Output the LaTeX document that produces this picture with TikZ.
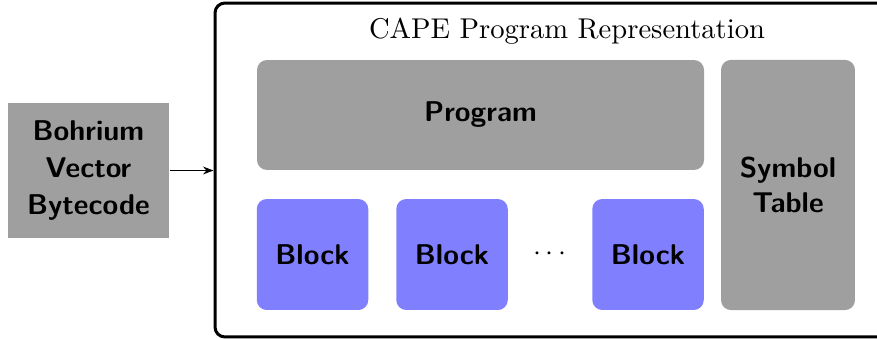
\documentclass[tikz,border=0pt,11pt]{standalone}
\usepackage{tikz}
\usetikzlibrary{arrows.meta}

\tikzset{
  inbox/.style={fill=gray!75, draw=none, align=center, font=\sffamily\bfseries, inner sep=0pt},
  partbox/.style={fill=gray!75, draw=none, rounded corners=3.8pt, align=center, font=\sffamily\bfseries, inner sep=0pt},
  blockbox/.style={fill=blue!50, draw=none, rounded corners=3.8pt, font=\sffamily\bfseries, inner sep=0pt,
                   minimum width=42.7pt, minimum height=42.5pt},
}

\begin{document}
\begin{tikzpicture}[x=0.383pt, y=-0.383pt]
    \useasboundingbox (0,0) rectangle (877,338);
    % outer frame, its right side runs off the page
    \node[draw, line width=1.15pt, rounded corners=3.8pt, minimum width=261.2pt, minimum height=127.9pt, inner sep=0pt]
      (rep) at (556,170) {};
    \node[anchor=base] (title) at (567,38) {CAPE Program Representation};

    \node[inbox, minimum width=61.7pt, minimum height=51.7pt] (bytecode) at (88.5,170.5) {Bohrium\\[0.5pt]Vector\\[0.5pt]Bytecode};
    \draw[-{Stealth[length=4pt]}, semithick] (bytecode.east) -- (rep.west |- bytecode.east);

    \node[partbox, minimum width=171.2pt, minimum height=42.1pt] (program) at (480.5,115) {Program};
    \node[partbox, minimum width=51.3pt, minimum height=95.8pt] (symtab) at (788,185) {Symbol\\Table};

    \foreach \x/\name in {312.5/blockA, 452/blockB, 648/blockC} {
      \node[blockbox] (\name) at (\x,254.5) {Block};
    }
    \node (dots) at (550,254.5) {$\cdots$};
  \end{tikzpicture}
\end{document}
